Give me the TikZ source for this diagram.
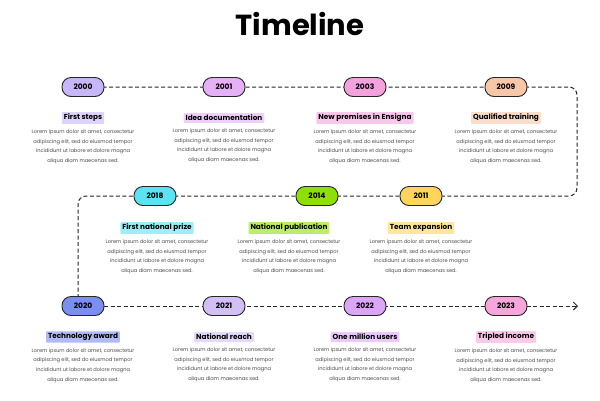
\documentclass[tikz,border=0pt]{standalone}
\usepackage{fontspec}
\setmainfont{Poppins}
\usetikzlibrary{positioning, arrows.meta}
\definecolor{cA}{HTML}{C7B6FA}
\definecolor{cB}{HTML}{E5B0F6}
\definecolor{cC}{HTML}{F4A2DD}
\definecolor{cD}{HTML}{F8C6A8}
\definecolor{cE}{HTML}{5DE2F2}
\definecolor{cF}{HTML}{8EDF08}
\definecolor{cG}{HTML}{FFD55E}
\definecolor{cH}{HTML}{7C8EEE}
\definecolor{cI}{HTML}{D2BFF5}
\definecolor{cJ}{HTML}{DCA6F6}
\definecolor{cK}{HTML}{F6A6DB}
\tikzset{
	year/.style={draw=black!85, line width=0.9pt, rounded corners=9pt, minimum width=42pt, minimum height=19pt, inner sep=0pt, font=\fontsize{7.5}{8}\selectfont\bfseries},
	tag/.style={inner sep=2pt, rounded corners=1pt, font=\fontsize{7.3}{8}\selectfont\bfseries},
	blurb/.style={align=center, font=\fontsize{5.1}{9.6}\selectfont, text=black!70},
	path/.style={dashed, dash pattern=on 4pt off 2.5pt, line width=1pt, black!85, rounded corners=8pt}
}
\newcommand{\lorem}{Lorem ipsum dolor sit amet, consectetur\\adipiscing elit, sed do eiusmod tempor\\incididunt ut labore et dolore magna\\aliqua diam maecenas sed.}
\begin{document}
\begin{tikzpicture}[x=1pt, y=-1pt]
	\useasboundingbox[fill=white] (0,0) rectangle (600,400);
	\node[font=\fontsize{29}{30}\selectfont\bfseries] (title) at (300,24) {Timeline};

	% connecting path
	\coordinate (c1) at (577,87);
	\coordinate (c2) at (577,196);
	\coordinate (c3) at (78,196);
	\coordinate (c4) at (78,306);
	\coordinate (tip) at (578,306);
	\draw[path] (83,87) -- (c1) -- (c2) -- (c3) -- (c4);
	\draw[path, -{Straight Barb[length=4pt]}] (c4) -- (tip);

	% years
	\foreach \yr/\x/\y/\col in {2000/83/87/cA, 2001/224/87/cB, 2003/365/87/cC, 2009/506/87/cD,
		2018/155/196/cE, 2014/317/196/cF, 2011/421/196/cG,
		2020/83/306/cH, 2021/224/306/cI, 2022/365/306/cJ, 2023/506/306/cK}
		\node[year, fill=\col] (y\yr) at (\x,\y) {\yr};

	% captions
	\foreach \txt/\x/\y/\col in {First steps/83/118/cA, Idea documentation/224/118/cB, New premises in Ensigna/365/118/cC, Qualified training/506/118/cD,
		First national prize/157/228/cE, National publication/289/228/cF, Team expansion/421/228/cG,
		Technology award/83/337/cH, National reach/224/337/cI, One million users/365/337/cJ, Tripled income/506/337/cK}
	{
		\node[tag, fill=\col!60] (t\x\y) at (\x,\y) {\txt};
		\node[blurb, below=2pt of t\x\y] {\lorem};
	}
\end{tikzpicture}
\end{document}
